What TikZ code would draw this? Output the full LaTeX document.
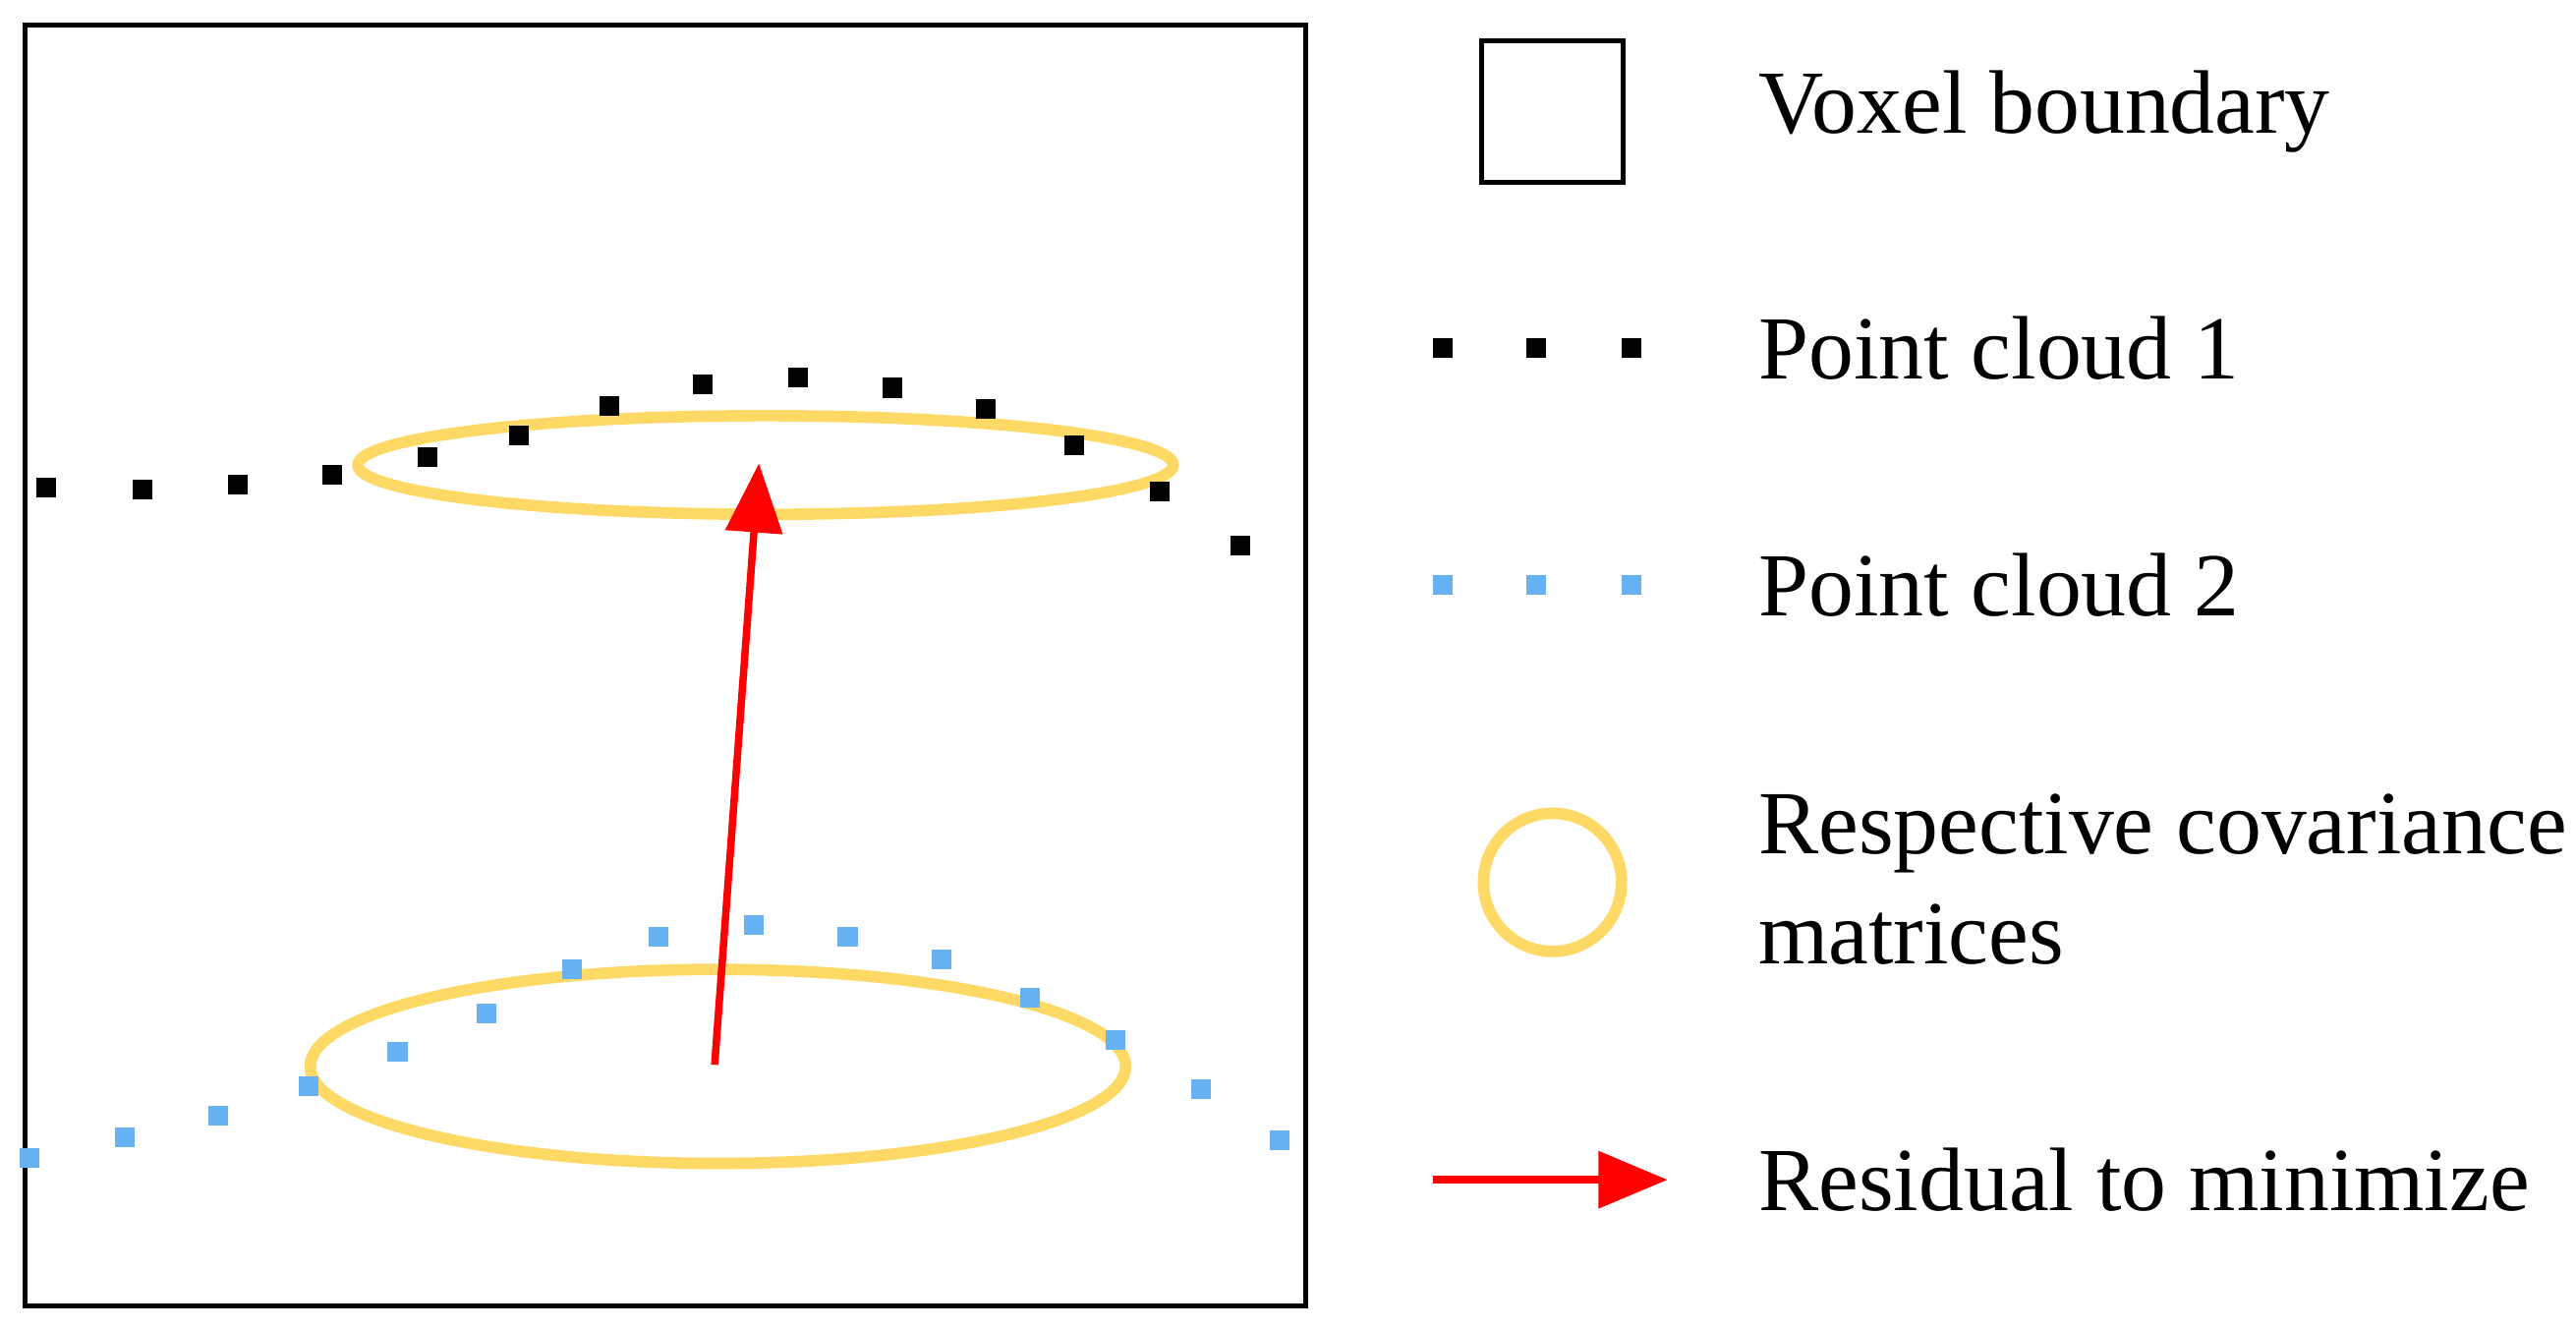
\documentclass[tikz,border=0pt]{standalone}
\usepackage{fontspec}
\setmainfont{Liberation Serif}
\usetikzlibrary{arrows.meta, positioning, shapes.geometric}
\begin{document}
\begin{tikzpicture}[x=0.01cm, y=-0.01cm,
        pcA/.style={fill=black, inner sep=0pt, minimum size=0.12cm},
        pcB/.style={fill=skyblue, inner sep=0pt, minimum size=0.12cm},
        cov/.style={draw=covyellow, line width=0.07cm},
        resid/.style={draw=red, line width=0.045cm, -{Triangle[length=0.42cm, width=0.34cm]}},
        legtext/.style={anchor=west, font=\fontsize{15.6}{19}\selectfont, align=left},]

        \definecolor{skyblue}{RGB}{102, 178, 245}
        \definecolor{covyellow}{RGB}{255, 217, 102}

        \useasboundingbox (0,0) rectangle (1568,809);
        \draw [line width=0.03cm] (15,15) rectangle (795,795);

        % covariances
        \node[cov, ellipse, minimum width=4.96cm, minimum height=0.6cm] (covA) at (466,283) {};
        \node[cov, ellipse, minimum width=4.96cm, minimum height=1.18cm] (covB) at (437,649) {};

        % point cloud 1
        \foreach \x/\y [count=\i] in {28/297, 87/298, 145/295, 202/289, 260/278, 316/265, 371/247, 428/234, 486/230, 543/236, 600/249, 654/271, 706/299, 755/332}
            \node[pcA] (a\i) at (\x,\y) {};

        % point cloud 2
        \foreach \x/\y [count=\i] in {18/705, 76/692, 133/679, 188/661, 242/640, 296/617, 348/590, 401/570, 459/563, 516/570, 573/584, 627/607, 679/633, 731/663, 779/694}
            \node[pcB] (b\i) at (\x,\y) {};

        \coordinate (resA) at (462,282);
        \coordinate (resB) at (435,648);
        \draw[resid] (resB) -- (resA);

        % legend
        \node[draw, line width=0.03cm, minimum size=0.86cm] (legbox) at (945,68) {};
        \node[legtext] (txtbox) at (1058,68) {Voxel boundary};

        \foreach \x [count=\i] in {878, 935, 993} {
            \node[pcA] (la\i) at (\x,212) {};
            \node[pcB] (lb\i) at (\x,356) {};
        }
        \node[legtext] (txtA) at (1058,212) {Point cloud 1};
        \node[legtext] (txtB) at (1058,356) {Point cloud 2};

        \node[cov, circle, minimum size=0.84cm] (legcov) at (945,537) {};
        \node[legtext] (txtcov) at (1058,535) {Respective covariance\\matrices};

        \coordinate (legrA) at (872,718);
        \coordinate (legrB) at (1015,718);
        \draw[resid] (legrA) -- (legrB);
        \node[legtext] (txtres) at (1058,718) {Residual to minimize};
    \end{tikzpicture}
\end{document}
